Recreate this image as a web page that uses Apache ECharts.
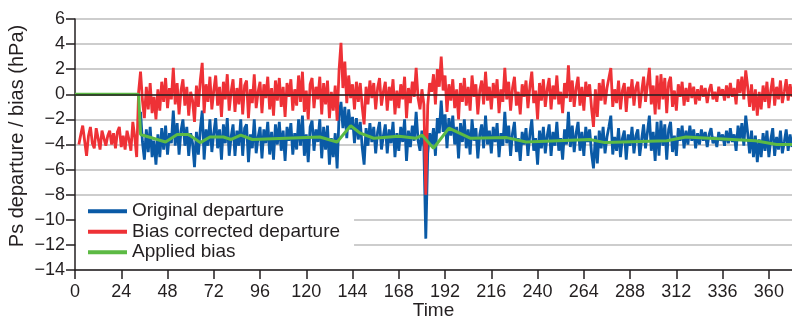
<!DOCTYPE html>
<html>
<head>
<meta charset="utf-8">
<script src="https://cdn.jsdelivr.net/npm/echarts@6/dist/echarts.min.js"></script>
<style>
  html, body { margin: 0; padding: 0; background: #fff; }
  #chart { width: 792px; height: 320px; }
</style>
</head>
<body>
<div id="chart"></div>
<script>
// hourly values
var redStart = 2;
var redCorrected = [
  -4.0,-3.2,-2.5,-3.7,-4.9,-3.3,-2.6,-3.9,-4.3,-2.7,-3.5,-4.4,-2.9,-2.8,-4.1,-3.3,-2.9,-4.0,-3.1,-4.3,-3.0,-2.6,-4.2,-3.3,-4.4,-2.9,-3.6,-4.5,-2.2,-3.4,-5.0,
  0.2,1.8,-0.5,-1.9,0.6,-1.2,0.9,-1.5,-0.2,-2.0,
  0.4,-1.3,1.0,-0.6,1.3,-1.1,0.5,-0.4,2.1,-0.8,
  0.9,-1.6,0.3,1.2,-0.9,0.6,-1.7,0.2,-0.5,-2.2,
  0.7,-1.0,1.1,2.5,-1.5,0.8,-0.6,1.4,-1.2,0.3,
  1.5,-0.9,0.6,-1.8,1.0,-0.4,1.6,-1.3,0.2,1.2,
  -1.4,0.5,-0.8,1.3,-1.6,0.7,1.1,-1.9,0.4,-0.7,
  1.6,-1.1,0.2,1.0,-1.5,0.8,-0.3,1.4,-1.2,0.5,
  -1.7,1.1,-0.5,1.3,-1.0,0.6,-1.8,0.9,-0.2,1.2,
  -1.3,0.4,-0.9,1.5,-0.6,1.8,-1.4,0.3,-2.0,0.8,
  1.3,-1.1,0.6,-0.4,1.4,-1.6,0.9,-0.8,1.1,-1.9,
  0.2,-1.3,0.7,-2.1,1.9,4.1,0.5,2.6,-0.7,1.5,
  -0.3,0.8,-1.2,1.0,-0.6,0.9,-1.0,-2.4,0.6,-0.8,
  1.1,-0.3,0.9,-1.2,0.5,1.3,-0.9,0.2,1.0,-1.3,
  0.6,-0.5,1.2,-1.6,0.3,-1.1,0.8,-0.4,1.4,-1.9,
  0.5,-0.7,1.0,-0.2,2.1,-0.3,-1.2,0.4,-0.8,-8.0,
  -0.9,0.9,0.2,1.6,-0.8,2.0,0.6,3.0,0.3,1.5,
  -1.4,0.8,-0.5,1.2,-1.1,0.4,-2.0,0.9,-0.6,1.3,
  -0.9,0.6,-1.3,1.5,-0.2,0.8,-1.6,0.3,1.1,-0.8,
  1.8,-0.5,0.6,-1.2,0.9,-0.3,1.2,-1.5,0.4,-0.6,
  2.1,-0.4,1.0,-1.3,0.5,1.4,-0.9,0.2,-1.6,0.8,
  -0.2,1.1,-1.1,0.6,1.8,-0.7,0.3,-2.0,0.9,-0.5,
  1.2,-1.0,0.4,1.3,-1.2,0.7,-0.4,1.5,-0.8,0.2,
  -1.5,0.9,-0.3,2.3,-0.6,1.1,-1.0,0.5,1.4,-0.9,
  0.6,-1.3,1.0,-0.2,0.8,-1.1,-2.6,0.4,-1.8,0.9,
  -0.5,1.2,-0.8,0.5,1.3,2.1,-1.0,0.4,-0.7,1.1,
  -1.2,0.3,0.9,-1.4,0.6,-0.3,1.2,-0.9,0.5,1.0,
  -1.1,0.2,1.4,-0.6,0.8,2.1,-0.8,0.7,-1.6,1.5,
  -1.2,1.6,-0.4,1.3,-1.5,0.9,1.4,-1.0,0.3,-1.3,
  0.8,-0.2,1.0,-0.9,0.5,-0.6,0.9,-0.3,0.6,-0.8,
  0.4,-0.5,0.7,-0.2,0.5,-0.7,0.3,0.8,-0.4,0.2,
  -0.6,0.6,-0.1,0.4,-0.5,0.7,-0.3,0.9,-0.2,0.5,
  -0.8,1.2,0.1,1.4,-0.4,1.9,0.6,-1.0,0.8,-1.3,
  0.4,-1.7,0.2,-1.2,0.7,-0.6,1.0,-1.1,0.3,1.3,
  -0.9,0.6,-0.4,1.1,-0.7,0.2,1.2,-0.5,0.8,-0.2
];

var blueStart = 34;
var blueOriginal = [
  -1.4,-3.8,-5.2,-2.8,-4.6,-2.6,-5.0,-3.7,-5.6,-3.2,
  -5.0,-2.7,-4.4,-2.5,-4.8,-3.1,-3.9,-1.3,-4.1,-2.3,
  -4.8,-2.9,-2.0,-4.1,-2.6,-4.9,-3.1,-3.9,-5.8,-3.0,
  -4.8,-2.8,-1.3,-5.2,-2.8,-4.1,-2.0,-4.6,-3.1,-1.9,
  -4.3,-2.8,-5.2,-2.4,-3.9,-1.9,-4.9,-3.4,-2.4,-4.9,
  -2.9,-4.1,-2.0,-4.9,-2.7,-2.4,-5.4,-3.2,-4.3,-2.0,
  -4.7,-3.4,-2.6,-5.1,-2.8,-3.9,-2.2,-4.8,-3.0,-5.2,
  -2.4,-4.0,-2.2,-4.5,-2.9,-5.3,-2.6,-3.7,-2.3,-4.8,
  -3.1,-4.4,-2.0,-4.1,-1.7,-4.9,-3.2,-5.4,-2.6,-2.1,
  -4.5,-2.8,-3.8,-2.0,-5.1,-2.6,-4.4,-2.5,-5.6,-3.5,
  -5.0,-3.1,-5.9,-1.7,-0.6,-2.7,-1.0,-3.5,-1.2,-2.8,
  -1.8,-3.9,-1.9,-3.6,-2.2,-4.2,-5.6,-2.7,-4.1,-2.3,
  -3.8,-2.6,-4.7,-3.0,-2.2,-4.4,-3.3,-2.4,-4.7,-2.8,
  -3.9,-2.2,-5.0,-3.1,-4.5,-2.6,-3.8,-2.0,-5.3,-2.9,
  -4.2,-2.5,-3.7,-1.4,-3.7,-4.5,-2.9,-4.2,-11.5,-4.7,
  -3.1,-4.0,-2.7,-4.9,-1.9,-3.1,-0.5,-3.0,-1.6,-4.3,
  -1.9,-3.3,-1.7,-4.0,-2.6,-5.1,-2.3,-3.8,-2.0,-4.3,
  -2.8,-4.8,-2.0,-3.7,-2.7,-5.1,-3.2,-2.4,-4.3,-1.7,
  -4.0,-2.9,-4.7,-2.6,-3.8,-2.3,-5.0,-3.1,-4.1,-1.4,
  -3.9,-2.5,-4.9,-3.1,-2.2,-4.6,-3.5,-5.3,-3.0,-4.0,
  -2.7,-4.9,-3.2,-2.0,-4.5,-3.5,-5.6,-2.9,-4.3,-2.6,
  -4.7,-3.3,-2.4,-4.9,-3.0,-4.1,-2.2,-4.5,-3.5,-5.2,
  -2.8,-4.0,-1.4,-4.2,-2.5,-4.6,-3.1,-2.2,-4.5,-3.0,
  -4.9,-2.6,-3.8,-2.8,-4.7,-5.9,-3.3,-5.5,-2.9,-4.3,
  -2.6,-4.7,-3.4,-2.6,-1.7,-4.8,-3.4,-4.5,-2.7,-5.0,
  -3.5,-2.9,-5.2,-3.2,-4.1,-2.6,-4.7,-3.3,-2.8,-4.9,
  -3.6,-2.4,-4.3,-3.0,-1.7,-4.5,-3.0,-5.3,-2.2,-4.9,
  -2.1,-4.1,-2.4,-5.2,-2.8,-2.2,-4.6,-3.3,-4.9,-2.7,
  -3.7,-2.5,-4.3,-2.9,-4.0,-2.5,-3.7,-2.8,-4.3,-3.1,
  -4.0,-2.8,-3.7,-3.0,-4.2,-3.2,-2.7,-3.9,-3.4,-4.2,
  -3.0,-3.7,-3.2,-4.1,-2.9,-3.9,-2.7,-3.8,-3.2,-4.5,
  -2.5,-3.6,-2.3,-4.1,-1.7,-3.1,-4.7,-2.9,-5.0,-3.3,
  -5.4,-3.6,-5.0,-3.1,-4.5,-2.9,-5.0,-3.6,-2.7,-4.9,
  -3.4,-4.4,-2.9,-4.7,-3.8,-2.8,-4.5,-3.2,-4.2
];

// applied bias, read at its corners
var biasHours  = [0, 33, 34, 47, 53, 59, 65, 70, 77, 81, 86, 92, 127, 136, 143, 148, 155, 168, 177, 180, 186, 194, 205, 224, 234, 267, 275, 307, 317, 353, 364, 372];
var biasValues = [0, 0, -3.2, -3.8, -3.2, -3.2, -3.85, -3.4, -3.4, -3.6, -3.25, -3.6, -3.4, -3.8, -2.5, -3.1, -3.5, -3.35, -3.5, -3.25, -4.3, -2.7, -3.5, -3.45, -3.8, -3.6, -3.85, -3.7, -3.4, -3.7, -4.0, -4.0];

var seriesNames = ["Original departure", "Bias corrected departure", "Applied bias"];

var BLUE = "#0a5aa6";
var RED = "#ee3136";
var GREEN = "#5cba44";
var INK = "#231f20";
var FONT = "Liberation Sans";

function pairs(start, arr) {
  return arr.map(function (v, i) { return [start + i, v]; });
}

var chart = echarts.init(document.getElementById("chart"));
var option = {
  animation: false,
  color: [BLUE, RED, GREEN],
  grid: { left: 75, right: 0, top: 19, bottom: 50, outerBoundsMode: "none" },
  legend: {
    orient: "vertical",
    left: 76,
    top: 198,
    padding: [3, 14, 5, 12],
    backgroundColor: "#fff",
    icon: "rect",
    itemWidth: 39,
    itemHeight: 4,
    itemGap: 0,
    data: seriesNames,
    textStyle: { fontFamily: FONT, fontSize: 19, color: INK, lineHeight: 20.5 }
  },
  graphic: [
    {
      type: "text",
      x: 17,
      y: 136,
      rotation: Math.PI / 2,
      style: {
        text: "Ps departure / bias (hPa)",
        font: '20px "' + FONT + '"',
        fill: INK,
        align: "center",
        verticalAlign: "middle"
      }
    }
  ],
  xAxis: {
    type: "value",
    min: 0,
    max: 372,
    interval: 24,
    name: "Time",
    nameLocation: "middle",
    nameGap: 31,
    nameMoveOverlap: false,
    nameTextStyle: { fontFamily: FONT, fontSize: 19, color: INK },
    axisLine: { onZero: false, lineStyle: { color: INK, width: 1.5 } },
    axisTick: { show: true, length: 9, lineStyle: { color: INK, width: 1.5 } },
    axisLabel: { fontFamily: FONT, fontSize: 18, color: INK, margin: 13, showMaxLabel: false },
    splitLine: { show: false }
  },
  yAxis: {
    type: "value",
    min: -14,
    max: 6,
    interval: 2,
    axisLine: { show: true, onZero: false, lineStyle: { color: INK, width: 1.5 } },
    axisTick: { show: true, length: 9, lineStyle: { color: INK, width: 1.5 } },
    axisLabel: {
      fontFamily: FONT, fontSize: 18, color: INK, margin: 10,
      formatter: function (v) { return String(v).replace("-", "\u2212"); }
    },
    splitLine: { lineStyle: { color: "#bdbdbd", width: 1.5 } }
  },
  series: [
    {
      name: seriesNames[0],
      type: "line",
      data: pairs(blueStart, blueOriginal),
      symbol: "none",
      lineStyle: { color: BLUE, width: 2.8 },
      itemStyle: { color: BLUE },
      markLine: {
        silent: true,
        symbol: "none",
        label: { show: false },
        lineStyle: { color: INK, type: "solid", width: 1.5 },
        data: [{ yAxis: 0 }]
      }
    },
    {
      name: seriesNames[1],
      type: "line",
      data: pairs(redStart, redCorrected),
      symbol: "none",
      lineStyle: { color: RED, width: 2.8 },
      itemStyle: { color: RED }
    },
    {
      name: seriesNames[2],
      type: "line",
      data: biasHours.map(function (h, i) { return [h, biasValues[i]]; }),
      symbol: "none",
      lineStyle: { color: GREEN, width: 3 },
      itemStyle: { color: GREEN }
    }
  ]
};
chart.setOption(option);
</script>
</body>
</html>
